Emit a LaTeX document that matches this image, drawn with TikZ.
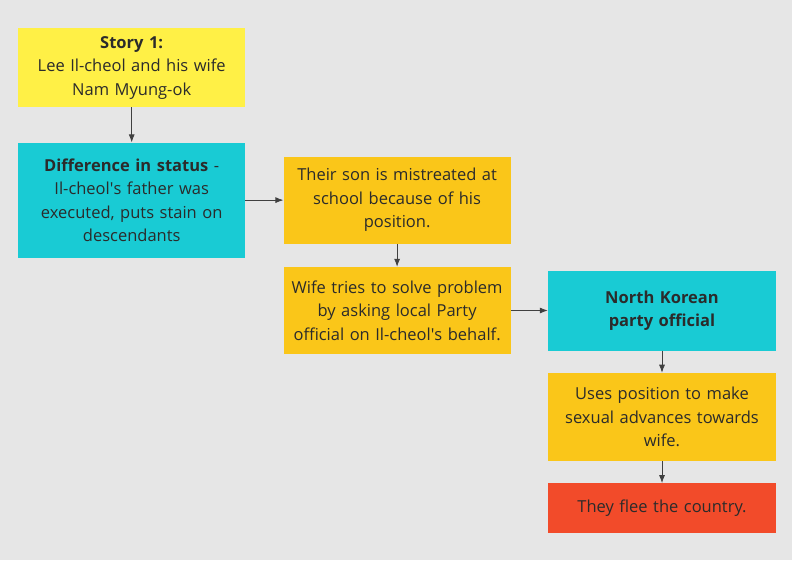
\documentclass[tikz,border=0pt]{standalone}
\usepackage{fontspec}
\setmainfont{Open Sans}
\usepackage{xcolor}
\usetikzlibrary{positioning,arrows.meta}

\definecolor{bggray}{HTML}{E6E6E6}
\definecolor{storyyellow}{HTML}{FFF046}
\definecolor{keycyan}{HTML}{19CBD4}
\definecolor{stepamber}{HTML}{FAC619}
\definecolor{endred}{HTML}{F24B2A}
\definecolor{txtdark}{HTML}{2B2B2B}
\definecolor{linegray}{HTML}{404040}

\begin{document}
\begin{tikzpicture}[
    x=1pt, y=1pt,
    font=\fontsize{16.5}{23.5}\selectfont,
    box/.style   ={align=center, text=txtdark, inner sep=0pt,
                   minimum width=227pt, text width=222pt},
    arrow/.style ={-{Latex[length=8pt,width=6pt]}, draw=linegray, line width=0.8pt}
]
% --- canvas ---
\fill[bggray] (0,0) rectangle (792,-560);
\useasboundingbox (0,0) rectangle (792,-560);

% --- left column ---
\node[box, fill=storyyellow, minimum height=79pt, anchor=north west] (story) at (18,-28)
    {\textbf{Story 1:}\\Lee Il-cheol and his wife\\Nam Myung-ok};
\node[box, fill=keycyan, minimum height=115pt, below=35pt of story] (status)
    {\textbf{Difference in status} -\\Il-cheol\textquotesingle s father was\\executed, puts stain on\\descendants};

% --- middle column ---
\node[box, fill=stepamber, minimum height=87pt, right=38pt of status] (son)
    {Their son is mistreated at\\school because of his\\position.};
\node[box, fill=stepamber, minimum height=87pt, below=23pt of son] (wife)
    {Wife tries to solve problem\\by asking local Party\\official on Il-cheol\textquotesingle s behalf.};

% --- right column ---
\node[box, fill=keycyan, minimum height=80pt, minimum width=228pt, right=37pt of wife] (official)
    {\textbf{North Korean}\\\textbf{party official}};
\node[box, fill=stepamber, minimum height=88pt, minimum width=228pt, below=22pt of official] (advances)
    {Uses position to make\\sexual advances towards\\wife.};
\node[box, fill=endred, minimum height=50pt, minimum width=228pt, below=22pt of advances] (flee)
    {They flee the country.};

% --- arrows ---
\draw[arrow] (story) -- (status);
\draw[arrow] (status) -- (son);
\draw[arrow] (son) -- (wife);
\draw[arrow] (wife) -- (official);
\draw[arrow] (official) -- (advances);
\draw[arrow] (advances) -- (flee);

\end{tikzpicture}
\end{document}
